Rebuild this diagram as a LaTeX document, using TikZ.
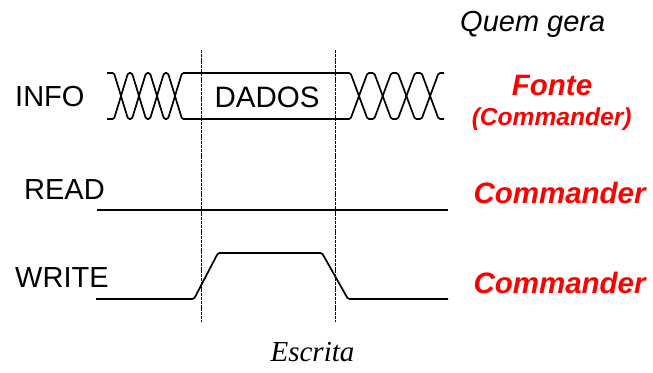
\documentclass[tikz,border=0pt]{standalone}
\usepackage{fontspec}
\setmainfont{Liberation Sans}
\newfontfamily\serifface{Liberation Serif}
\begin{document}
\begin{tikzpicture}[x=1pt,y=-1pt,
  sig/.style={line width=1.7pt, line join=round, rounded corners=1.5pt},
  guide/.style={line width=1pt, dash pattern=on 3pt off 0.8pt},
  lbl/.style={inner sep=0, anchor=base west, font=\fontsize{29}{34}\selectfont},
  who/.style={inner sep=0, anchor=base west, text=red, font=\fontsize{29.5}{34}\selectfont\bfseries\itshape}]
\useasboundingbox (0,0) rectangle (653,372);
% guides
\coordinate (g1t) at (201.7,50);
\coordinate (g1b) at (201.7,322);
\coordinate (g2t) at (335,50);
\coordinate (g2b) at (335,322);
\draw[guide] (g1t) -- (g1b);
\draw[guide] (g2t) -- (g2b);
% INFO bus
\draw[sig] (107,73) -- (114,73) -- (128,119) -- (132,119) -- (146,73) -- (150,73) -- (164,119) -- (168,119) -- (182,73)
  -- (350.5,73) -- (367.5,119) -- (374.2,119) -- (391.2,73) -- (397.9,73) -- (414.9,119) -- (421.6,119) -- (438.6,73) -- (444,73);
\draw[sig] (107,119) -- (114,119) -- (128,73) -- (132,73) -- (146,119) -- (150,119) -- (164,73) -- (168,73) -- (182,119)
  -- (350.5,119) -- (367.5,73) -- (374.2,73) -- (391.2,119) -- (397.9,119) -- (414.9,73) -- (421.6,73) -- (438.6,119) -- (444,119);
% READ
\draw[sig] (97,210) -- (448,210);
% WRITE
\draw[sig] (96,299) -- (194,299) -- (218,253) -- (322,253) -- (348,299) -- (448,299);
% labels
\node[lbl] (info) at (15,106) {INFO};
\node[lbl] (read) at (24,199.5) {READ};
\node[lbl] (write) at (15,287.7) {WRITE};
\node[inner sep=0, anchor=base, font=\fontsize{29.5}{34}\selectfont] (dados) at (267,107) {DADOS};
\node[lbl, anchor=base west, font=\fontsize{29}{34}\selectfont\itshape] (quem) at (460,31.7) {Quem gera};
\node[who, anchor=base] (fonte) at (552,95) {Fonte};
\node[who, anchor=base, font=\fontsize{24.6}{28}\selectfont\bfseries\itshape] (fcmd) at (551.7,125) {(Commander)};
\node[who] (rcmd) at (473.3,203.3) {Commander};
\node[who] (wcmd) at (473.3,293.3) {Commander};
\node[inner sep=0, anchor=base, font=\fontsize{29}{34}\selectfont\serifface\itshape] (escrita) at (312.5,361) {Escrita};
\end{tikzpicture}
\end{document}
